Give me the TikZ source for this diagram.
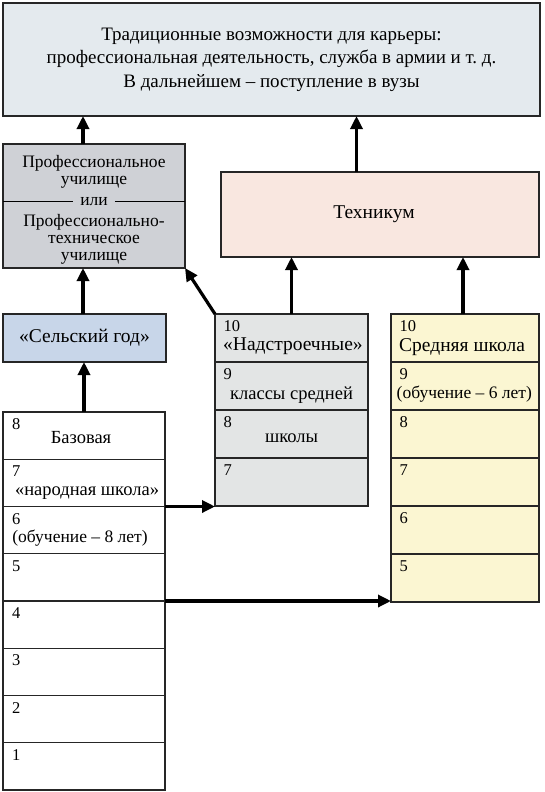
\documentclass[tikz,border=0pt]{standalone}
\usepackage{fontspec}
\setmainfont{Liberation Serif}
\usetikzlibrary{arrows.meta}

\definecolor{topfill}{HTML}{E4EAEE}
\definecolor{pufill}{HTML}{CFD1D6}
\definecolor{techfill}{HTML}{F9E7E0}
\definecolor{ruralfill}{HTML}{C8D6E9}
\definecolor{upperfill}{HTML}{E3E5E5}
\definecolor{midfill}{HTML}{FBF6D2}

\tikzset{
    box/.style={draw=black!85, line width=1.1pt, inner sep=0pt, outer sep=0pt, anchor=north west},
    num/.style={anchor=base west, inner sep=0pt, font=\fontsize{16.5}{18}\selectfont},
    txt/.style={anchor=base, inner sep=0pt},
    small/.style={font=\fontsize{17.5}{18}\selectfont},
    putxt/.style={align=center, inner sep=0pt, font=\fontsize{17.5}{17}\selectfont},
    up/.style={line width=3.2pt, -{Triangle[length=13pt,width=12pt]}},
}

\begin{document}
\begin{tikzpicture}[x=1pt,y=-1pt]
        \tikzstyle{every node}=[font=\fontsize{19.5}{23.5}\selectfont]
        \useasboundingbox (0,0) rectangle (544,792);

        % top row
        \node[box, fill=topfill, minimum width=537pt, minimum height=113pt] (career) at (3,3) {};
        \node[align=center, font=\fontsize{19}{23.5}\selectfont] (careertext) at (career.center) {Традиционные возможности для карьеры:\\
            профессиональная деятельность, служба в армии и т.~д.\\
            В дальнейшем – поступление в вузы};

        \node[box, fill=pufill, minimum width=182pt, minimum height=124pt] (pu) at (3,144) {};
        \node[putxt] (putext) at (94,172) {Профессиональное\\училище};
        \node[txt, putxt, inner xsep=7pt] (ili) at (94,205) {или};
        \node[putxt] (pttext) at (94,239) {Профессионально-\\техническое\\училище};
        \draw[line width=1.1pt] (pu.west |- ili.center) -- (ili.west);
        \draw[line width=1.1pt] (ili.east) -- (pu.east |- ili.center);

        \node[box, fill=techfill, minimum width=318pt, minimum height=85pt] (tech) at (221,172) {};
        \node (techtext) at ([xshift=-6pt]tech.center) {Техникум};

        \node[box, fill=ruralfill, minimum width=163pt, minimum height=48pt] (rural) at (3,314) {};
        \node (ruraltext) at (rural.center) {«Сельский год»};

        % columns of classes
        \foreach \n [count=\i from 0] in {8,7,...,1} {
            \node[box, fill=white, minimum width=162pt, minimum height=47.25pt] (base\n) at (3,412+47.25*\i) {};
            \node[num] (base\n-num) at ([shift={(9,17.5)}]base\n.north west) {\n};
        }
        \foreach \n [count=\i from 0] in {10,9,8,7} {
            \node[box, fill=upperfill, minimum width=153pt, minimum height=48pt] (upper\n) at (215,314+48*\i) {};
            \node[num] (upper\n-num) at ([shift={(8.5,17.5)}]upper\n.north west) {\n};
        }
        \foreach \n [count=\i from 0] in {10,9,...,5} {
            \node[box, fill=midfill, minimum width=148pt, minimum height=48pt] (mid\n) at (391,314+48*\i) {};
            \node[num] (mid\n-num) at ([shift={(8.5,17.5)}]mid\n.north west) {\n};
        }

        \node[txt, font=\fontsize{18.5}{20}\selectfont] (base8text) at ([shift={(-3,31)}]base8.north) {Базовая};
        \node[txt, font=\fontsize{18.5}{20}\selectfont] (base7text) at ([shift={(3,36)}]base7.north) {«народная школа»};
        \node[txt, small] (base6text) at ([shift={(-4,36)}]base6.north) {(обучение – 8 лет)};
        \node[txt, anchor=base west] (upper10text) at ([shift={(8,36)}]upper10.north west) {«Надстроечные»};
        \node[txt, font=\fontsize{18.5}{20}\selectfont] (upper9text) at ([shift={(0,37)}]upper9.north) {классы средней};
        \node[txt, font=\fontsize{18.5}{20}\selectfont] (upper8text) at ([shift={(0,32)}]upper8.north) {школы};
        \node[txt, anchor=base west] (mid10text) at ([shift={(8,37)}]mid10.north west) {Средняя школа};
        \node[txt, anchor=base west, small] (mid9text) at ([shift={(5.5,36)}]mid9.north west) {(обучение – 6 лет)};

        % arrows
        \draw[up] ([xshift=-11pt]pu.north) -- ([xshift=-11pt]pu.north |- career.south);
        \draw[up] ([xshift=-23.5pt]tech.north) -- ([xshift=-23.5pt]tech.north |- career.south);
        \draw[up] ([xshift=-1.5pt]rural.north) -- ([xshift=-1.5pt]rural.north |- pu.south);
        \draw[up] (base8.north) -- (base8.north |- rural.south);
        \draw[up] (upper10.north west) -- (pu.south east);
        \draw[up] (upper10.north) -- (upper10.north |- tech.south);
        \draw[up] ([xshift=-2pt]mid10.north) -- ([xshift=-2pt]mid10.north |- tech.south);
        \draw[up] (base7.south east) -- (base7.south east -| upper7.west);
        \draw[up] (base5.south east) -- (base5.south east -| mid5.west);
    \end{tikzpicture}
\end{document}
